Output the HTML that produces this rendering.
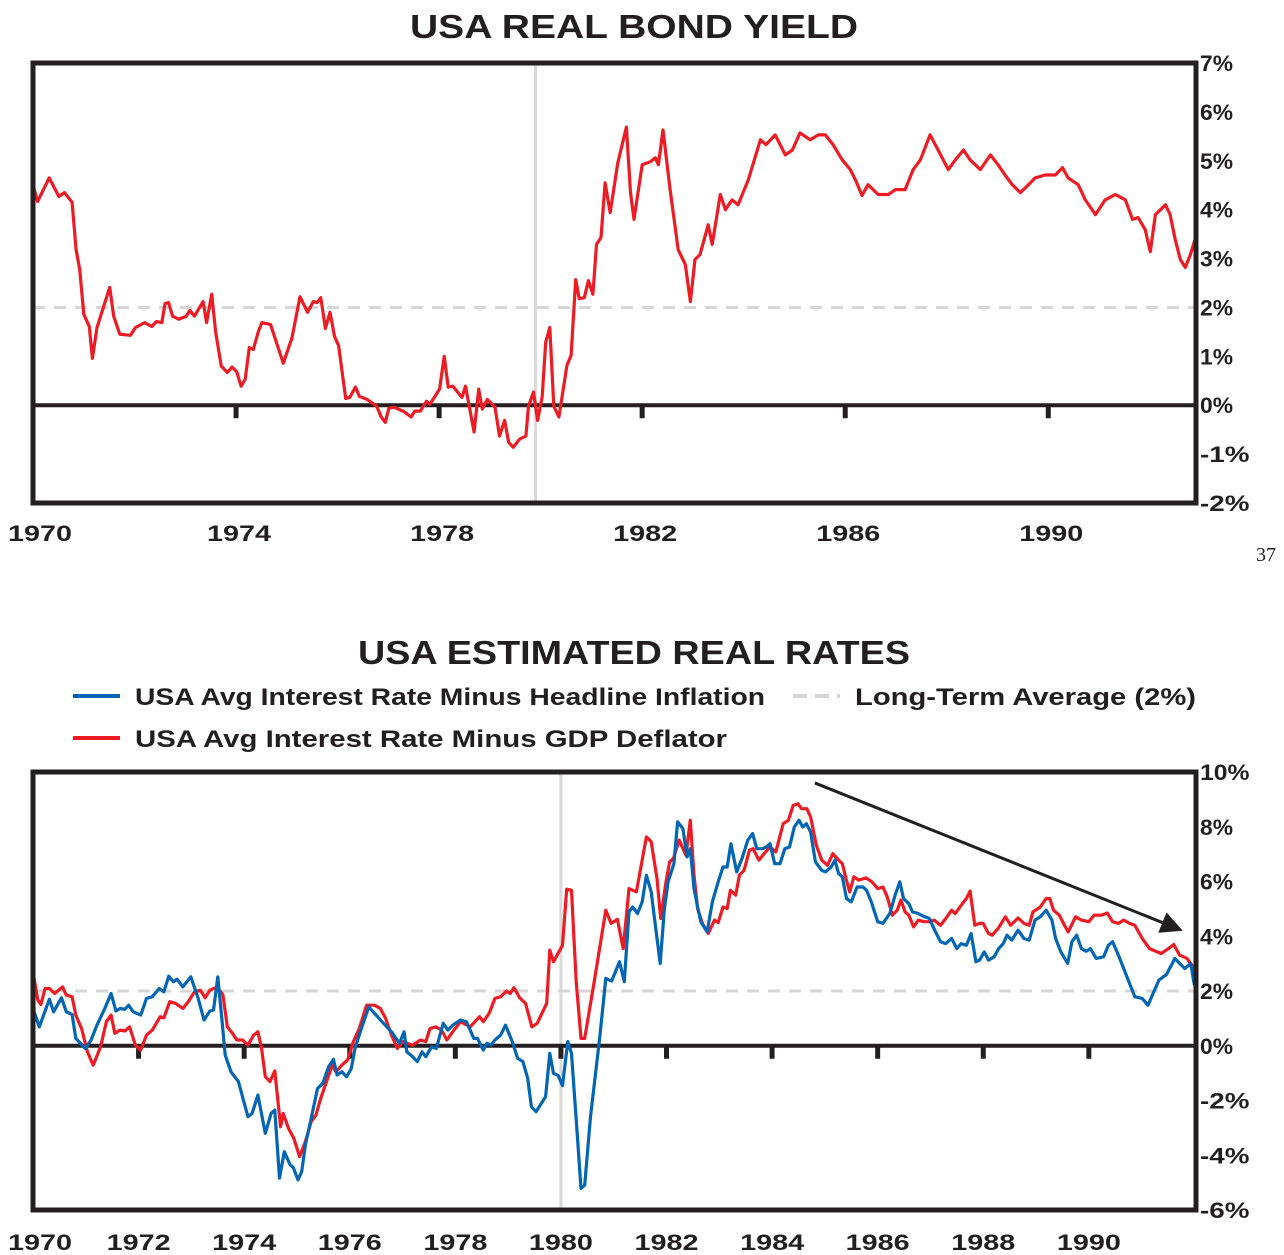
<!DOCTYPE html>
<html><head><meta charset="utf-8"><style>
html,body{margin:0;padding:0;background:#fff;}
svg{display:block;font-family:"Liberation Sans",sans-serif;font-weight:bold;}
</style></head><body>
<svg id="c" width="1284" height="1255" viewBox="0 0 1284 1255"></svg>
<script>
// ---- Top chart data: USA real bond yield ----
const bondDates=[1970.0,1970.09,1970.32,1970.51,1970.62,1970.77,1970.85,1970.92,1971.0,1971.11,1971.17,1971.26,1971.51,1971.59,1971.71,1971.92,1972.02,1972.2,1972.34,1972.43,1972.54,1972.6,1972.67,1972.75,1972.87,1973.02,1973.09,1973.18,1973.35,1973.42,1973.52,1973.6,1973.71,1973.83,1973.92,1974.01,1974.1,1974.18,1974.26,1974.34,1974.44,1974.51,1974.68,1974.93,1975.1,1975.26,1975.41,1975.52,1975.6,1975.67,1975.76,1975.85,1975.94,1976.02,1976.16,1976.24,1976.35,1976.43,1976.58,1976.77,1976.86,1976.94,1977.01,1977.11,1977.29,1977.45,1977.52,1977.63,1977.75,1977.82,1978.01,1978.1,1978.18,1978.27,1978.45,1978.52,1978.69,1978.78,1978.85,1978.95,1979.1,1979.19,1979.29,1979.37,1979.46,1979.59,1979.71,1979.76,1979.86,1979.94,1980.03,1980.1,1980.18,1980.26,1980.36,1980.52,1980.6,1980.69,1980.76,1980.86,1980.94,1981.03,1981.1,1981.19,1981.27,1981.37,1981.52,1981.69,1981.77,1981.84,1982.0,1982.16,1982.26,1982.32,1982.41,1982.55,1982.71,1982.85,1982.95,1983.04,1983.14,1983.3,1983.38,1983.54,1983.64,1983.77,1983.89,1984.09,1984.33,1984.44,1984.62,1984.82,1984.96,1985.11,1985.31,1985.47,1985.61,1985.76,1985.94,1986.1,1986.2,1986.33,1986.45,1986.65,1986.85,1986.99,1987.18,1987.34,1987.48,1987.67,1987.83,1988.03,1988.17,1988.33,1988.46,1988.66,1988.86,1989.01,1989.15,1989.29,1989.45,1989.61,1989.74,1989.94,1990.14,1990.28,1990.39,1990.59,1990.73,1990.93,1991.12,1991.32,1991.52,1991.66,1991.77,1991.91,1992.01,1992.11,1992.21,1992.31,1992.4,1992.5,1992.6,1992.7,1992.8,1992.92];
const bondValues=[4.5,4.17,4.65,4.27,4.35,4.15,3.18,2.78,1.86,1.61,0.96,1.59,2.41,1.82,1.45,1.43,1.59,1.69,1.61,1.71,1.69,2.08,2.1,1.82,1.76,1.82,1.94,1.82,2.12,1.69,2.27,1.49,0.8,0.67,0.78,0.69,0.39,0.53,1.18,1.14,1.51,1.69,1.65,0.86,1.37,2.22,1.9,2.12,2.1,2.2,1.57,1.9,1.41,1.22,0.14,0.16,0.37,0.18,0.12,-0.02,-0.24,-0.35,-0.06,-0.04,-0.12,-0.24,-0.12,-0.12,0.08,0.02,0.33,1.0,0.37,0.39,0.16,0.39,-0.55,0.33,-0.08,0.12,-0.04,-0.63,-0.31,-0.76,-0.86,-0.69,-0.63,-0.02,0.27,-0.31,0.18,1.29,1.59,-0.02,-0.24,0.82,1.02,2.57,2.18,2.2,2.55,2.27,3.29,3.43,4.55,3.94,4.96,5.69,4.35,3.8,4.92,4.98,5.06,4.92,5.63,4.41,3.18,2.88,2.12,2.98,3.08,3.69,3.29,4.31,4.0,4.2,4.1,4.61,5.43,5.33,5.53,5.12,5.22,5.57,5.43,5.53,5.53,5.33,5.02,4.82,4.61,4.29,4.51,4.31,4.31,4.41,4.41,4.82,5.02,5.53,5.22,4.82,5.02,5.22,5.02,4.82,5.12,4.92,4.71,4.51,4.35,4.51,4.65,4.71,4.71,4.86,4.65,4.51,4.2,3.9,4.2,4.31,4.2,3.8,3.84,3.59,3.14,3.9,4.0,4.1,3.9,3.39,2.98,2.82,3.08,3.49];
const topYTicks=[7,6,5,4,3,2,1,0,-1,-2];
const topXTicks=[1970,1974,1978,1982,1986,1990];

// ---- Bottom chart data: estimated real rates ----
const headlineDates=[1970.0,1970.02,1970.12,1970.31,1970.39,1970.54,1970.63,1970.74,1970.81,1970.99,1971.1,1971.21,1971.36,1971.48,1971.57,1971.65,1971.74,1971.81,1971.9,1972.04,1972.15,1972.26,1972.39,1972.48,1972.57,1972.66,1972.73,1972.84,1972.99,1973.13,1973.24,1973.35,1973.42,1973.5,1973.57,1973.64,1973.75,1973.89,1974.07,1974.15,1974.26,1974.4,1974.51,1974.58,1974.67,1974.76,1974.87,1974.93,1975.02,1975.09,1975.16,1975.27,1975.39,1975.49,1975.6,1975.69,1975.76,1975.85,1975.94,1976.03,1976.1,1976.21,1976.36,1976.47,1976.61,1976.79,1976.94,1977.03,1977.08,1977.19,1977.28,1977.37,1977.44,1977.55,1977.64,1977.77,1977.86,1977.95,1978.1,1978.21,1978.35,1978.42,1978.53,1978.6,1978.68,1978.75,1978.86,1978.95,1979.08,1979.18,1979.28,1979.37,1979.44,1979.53,1979.71,1979.79,1979.86,1979.95,1980.03,1980.13,1980.2,1980.31,1980.38,1980.45,1980.56,1980.74,1980.85,1980.96,1981.11,1981.2,1981.29,1981.36,1981.45,1981.54,1981.62,1981.71,1981.78,1981.88,1981.96,1982.03,1982.14,1982.21,1982.31,1982.39,1982.45,1982.52,1982.59,1982.65,1982.77,1982.87,1982.98,1983.07,1983.15,1983.22,1983.33,1983.43,1983.54,1983.63,1983.71,1983.82,1983.89,1983.96,1984.05,1984.15,1984.24,1984.33,1984.42,1984.51,1984.58,1984.65,1984.73,1984.82,1984.94,1985.01,1985.12,1985.19,1985.26,1985.33,1985.41,1985.5,1985.61,1985.72,1985.79,1985.88,1986.0,1986.1,1986.23,1986.33,1986.42,1986.49,1986.59,1986.66,1986.77,1986.87,1986.98,1987.08,1987.19,1987.29,1987.4,1987.5,1987.58,1987.68,1987.77,1987.86,1987.93,1988.02,1988.1,1988.21,1988.29,1988.38,1988.45,1988.54,1988.66,1988.77,1988.87,1988.98,1989.08,1989.19,1989.3,1989.37,1989.47,1989.6,1989.68,1989.77,1989.86,1989.95,1990.03,1990.14,1990.28,1990.37,1990.45,1990.56,1990.66,1990.77,1990.87,1991.01,1991.12,1991.23,1991.33,1991.47,1991.63,1991.72,1991.82,1991.93,1992.0];
const headlineValues=[2.4,1.24,0.69,1.7,1.24,1.75,1.24,1.14,0.27,-0.1,0.21,0.75,1.36,1.91,1.27,1.36,1.33,1.48,1.24,1.12,1.73,1.79,2.09,1.97,2.54,2.34,2.43,2.15,2.52,1.73,0.94,1.27,1.3,2.52,1.12,-0.34,-0.95,-1.31,-2.59,-2.47,-1.8,-3.2,-2.47,-2.35,-4.84,-3.87,-4.35,-4.45,-4.9,-4.6,-3.62,-2.65,-1.56,-1.37,-0.77,-0.49,-1.07,-0.95,-1.13,-0.83,-0.1,0.57,1.42,1.18,0.88,0.51,0.09,0.51,-0.22,-0.4,-0.58,-0.22,-0.4,-0.04,-0.1,0.82,0.57,0.75,0.94,0.88,0.27,0.27,-0.16,0.09,0.02,0.21,0.39,0.75,0.15,-0.46,-0.58,-1.19,-2.23,-2.41,-1.86,-0.28,-1.01,-1.09,-1.46,0.15,-0.28,-3.26,-5.21,-5.09,-2.59,0.39,2.46,2.36,3.07,2.34,4.89,5.07,4.83,5.26,6.23,5.62,4.53,3.01,5.01,5.99,6.65,8.18,7.93,6.9,7.2,5.74,5.07,4.53,4.16,5.26,5.99,6.53,6.53,7.38,6.35,6.84,7.51,7.75,7.2,7.2,7.26,7.38,6.65,6.65,7.2,7.26,7.99,8.24,7.99,8.11,7.81,6.72,6.41,6.35,6.53,6.78,6.29,6.17,5.38,5.26,5.8,5.8,5.68,5.26,4.53,4.47,4.83,5.5,5.99,5.38,5.19,4.89,4.83,4.73,4.65,4.22,3.8,3.73,3.92,3.55,3.73,3.67,4.1,3.07,3.13,3.43,3.13,3.25,3.55,3.73,4.04,3.86,4.22,3.92,3.86,4.59,4.71,4.95,4.59,3.92,3.43,3.01,3.8,4.04,3.55,3.45,3.55,3.19,3.25,3.67,3.8,3.31,2.82,2.28,1.79,1.73,1.48,1.97,2.4,2.6,3.19,3.01,2.82,3.01,2.21];
const deflatorDates=[1970.0,1970.02,1970.09,1970.15,1970.23,1970.31,1970.41,1970.56,1970.63,1970.74,1970.81,1970.92,1971.03,1971.14,1971.28,1971.39,1971.48,1971.55,1971.65,1971.74,1971.83,1971.94,1972.04,1972.15,1972.26,1972.41,1972.48,1972.59,1972.7,1972.84,1972.95,1973.06,1973.17,1973.26,1973.35,1973.49,1973.6,1973.68,1973.78,1973.86,1973.97,1974.07,1974.18,1974.26,1974.33,1974.4,1974.49,1974.58,1974.69,1974.74,1974.84,1974.94,1975.05,1975.16,1975.27,1975.36,1975.45,1975.56,1975.67,1975.74,1975.85,1975.96,1976.07,1976.18,1976.32,1976.47,1976.58,1976.68,1976.79,1976.9,1977.01,1977.19,1977.34,1977.44,1977.52,1977.63,1977.74,1977.84,1977.95,1978.1,1978.28,1978.46,1978.53,1978.64,1978.75,1978.86,1978.97,1979.04,1979.11,1979.22,1979.33,1979.45,1979.55,1979.73,1979.79,1979.86,1980.03,1980.11,1980.2,1980.29,1980.38,1980.45,1980.63,1980.85,1980.95,1981.07,1981.18,1981.29,1981.43,1981.62,1981.71,1981.82,1981.89,1981.99,1982.06,1982.13,1982.24,1982.37,1982.45,1982.52,1982.59,1982.68,1982.79,1982.91,1982.98,1983.07,1983.15,1983.21,1983.31,1983.38,1983.47,1983.57,1983.64,1983.75,1983.85,1983.96,1984.07,1984.21,1984.31,1984.4,1984.49,1984.56,1984.66,1984.73,1984.84,1984.94,1985.05,1985.15,1985.26,1985.33,1985.4,1985.47,1985.55,1985.64,1985.78,1985.89,1986.0,1986.1,1986.18,1986.28,1986.37,1986.44,1986.52,1986.59,1986.68,1986.77,1986.87,1986.98,1987.07,1987.19,1987.29,1987.4,1987.47,1987.58,1987.68,1987.75,1987.84,1987.93,1988.0,1988.1,1988.17,1988.28,1988.42,1988.52,1988.66,1988.77,1988.87,1988.94,1989.08,1989.19,1989.26,1989.33,1989.44,1989.54,1989.61,1989.75,1989.86,1990.0,1990.1,1990.24,1990.35,1990.45,1990.56,1990.66,1990.77,1990.87,1991.01,1991.15,1991.37,1991.51,1991.61,1991.72,1991.86,1992.0];
const deflatorValues=[2.7,2.46,1.67,1.51,2.09,2.09,1.91,2.15,1.85,1.79,1.12,0.63,-0.22,-0.71,-0.04,0.88,1.12,0.45,0.57,0.54,0.69,0.02,-0.16,0.39,0.57,1.06,1.02,1.61,1.55,1.36,1.63,1.97,2.03,1.75,2.03,2.15,1.85,0.69,0.45,0.21,0.21,0.02,0.39,0.51,-0.1,-1.13,-1.31,-0.92,-2.96,-2.47,-3.02,-3.38,-4.05,-3.5,-2.77,-2.53,-1.92,-1.31,-0.71,-0.95,-0.71,-0.52,0.15,0.63,1.48,1.48,1.36,1.0,0.39,-0.1,0.15,0.02,0.21,0.15,0.63,0.69,0.57,0.21,0.51,0.88,0.69,1.06,0.88,1.18,1.73,1.79,2.0,1.91,2.12,1.75,1.55,0.69,0.82,1.55,3.49,3.07,3.67,5.72,5.68,2.34,0.27,0.27,2.34,4.95,4.47,4.62,3.55,5.74,5.62,7.63,7.45,6.11,4.65,5.99,6.72,6.84,7.51,6.96,8.24,6.23,5.01,4.47,4.1,4.59,4.5,5.07,5.01,5.68,5.5,6.23,6.41,7.14,7.2,6.78,7.02,7.26,7.08,8.11,8.24,8.78,8.84,8.66,8.66,8.36,7.32,6.78,6.59,7.02,6.78,6.65,6.11,5.62,6.17,6.05,6.13,5.99,5.74,5.8,5.44,4.77,4.95,5.32,4.89,4.77,4.34,4.59,4.53,4.53,4.59,4.4,4.65,4.95,4.83,5.13,5.38,5.65,4.4,4.47,4.47,4.1,4.04,4.28,4.71,4.4,4.67,4.47,4.4,4.89,5.07,5.38,5.38,4.95,4.77,4.4,4.16,4.71,4.59,4.53,4.77,4.77,4.85,4.53,4.47,4.59,4.47,4.4,3.92,3.55,3.37,3.55,3.7,3.31,3.19,2.82];
const botYTicks=[10,8,6,4,2,0,-2,-4,-6];
const botXTicks=[1970,1972,1974,1976,1978,1980,1982,1984,1986,1988,1990];
const trendArrow=[[1984.81,9.6],[1991.78,4.2]];

const NS="http://www.w3.org/2000/svg";
const svg=document.getElementById('c');
function mk(tag,attrs,parent){const e=document.createElementNS(NS,tag);for(const k in attrs)e.setAttribute(k,attrs[k]);(parent||svg).appendChild(e);return e;}
function txt(s,x,y,size,anchor,parent,len,fam){const t=mk('text',{x:x,y:y,'font-size':size,'text-anchor':anchor||'start',fill:'#231f20'},parent);if(len){t.setAttribute('textLength',len);t.setAttribute('lengthAdjust','spacingAndGlyphs');}if(fam){t.setAttribute('font-family',fam);t.setAttribute('font-weight','normal');}t.textContent=s;return t;}
function pathD(dates,vals,sx,sy){return dates.map((d,i)=>(i?'L':'M')+sx(d).toFixed(1)+' '+sy(vals[i]).toFixed(1)).join(' ');}
function yLen(s){return s.length*16.5;}

// ===== TOP CHART =====
const T={x0:33,x1:1196,y0:63,y1:503,xmin:1970,xmax:1992.91,ymin:-2,ymax:7};
const tx=d=>T.x0+(d-T.xmin)/(T.xmax-T.xmin)*(T.x1-T.x0);
const ty=v=>T.y1-(v-T.ymin)/(T.ymax-T.ymin)*(T.y1-T.y0);
const gTop=mk('g',{});


const t1=txt('USA REAL BOND YIELD',634,38,33,'middle',gTop,448);


const vl1=mk('line',{x1:tx(1979.9),x2:tx(1979.9),y1:T.y0,y2:T.y1,stroke:'#d9d9d9','stroke-width':3},gTop);


const avg1=mk('line',{x1:T.x0,x2:T.x1,y1:ty(2),y2:ty(2),stroke:'#d6d6d6','stroke-width':3,'stroke-dasharray':'12 9'},gTop);


const z1=mk('line',{x1:T.x0,x2:T.x1,y1:ty(0),y2:ty(0),stroke:'#231f20','stroke-width':4},gTop);


topXTicks.forEach(y=>{
  const tk=mk('line',{x1:tx(y),x2:tx(y),y1:ty(0),y2:ty(0)+13,stroke:'#231f20','stroke-width':5},gTop);
  
  
  const l=txt(String(y),tx(y)+(y===1970?7:3),541,22,'middle',gTop,64);
  
  
});
topYTicks.forEach(v=>{
  const s=v+'%';
  const l=txt(s,1200,ty(v)+8,22,'start',gTop,yLen(s));
  
  
});
const s1=mk('path',{d:pathD(bondDates,bondValues,tx,ty),fill:'none',stroke:'#ed1c24','stroke-width':3.2,'stroke-linejoin':'round'},gTop);


const f1=mk('rect',{x:T.x0,y:T.y0,width:T.x1-T.x0,height:T.y1-T.y0,fill:'none',stroke:'#231f20','stroke-width':5},gTop);


const pg=txt('37',1266,561,20,'middle',svg,0,'"Liberation Serif",serif');



// ===== BOTTOM CHART =====
const B={x0:33,x1:1196,y0:772,y1:1210,xmin:1970,xmax:1992.03,ymin:-6,ymax:10};
const bx=d=>B.x0+(d-B.xmin)/(B.xmax-B.xmin)*(B.x1-B.x0);
const by=v=>B.y1-(v-B.ymin)/(B.ymax-B.ymin)*(B.y1-B.y0);
const gB=mk('g',{});


const t2=txt('USA ESTIMATED REAL RATES',634,664,33,'middle',gB,552);


// legend
const lg=mk('g',{},gB);


const le1=mk('line',{x1:73,x2:120,y1:696,y2:696,stroke:'#0066b3','stroke-width':4},lg);


const lt1=txt('USA Avg Interest Rate Minus Headline Inflation',135,705,24,'start',lg,630);


const le2=mk('line',{x1:793,x2:840,y1:696,y2:696,stroke:'#d6d6d6','stroke-width':4,'stroke-dasharray':'14 8'},lg);


const lt2=txt('Long-Term Average (2%)',855,705,24,'start',lg,341);


const le3=mk('line',{x1:73,x2:120,y1:738,y2:738,stroke:'#ed1c24','stroke-width':4},lg);


const lt3=txt('USA Avg Interest Rate Minus GDP Deflator',135,747,24,'start',lg,592);



const vl2=mk('line',{x1:bx(1980),x2:bx(1980),y1:B.y0,y2:B.y1,stroke:'#d9d9d9','stroke-width':3},gB);


const avg2=mk('line',{x1:B.x0,x2:B.x1,y1:by(2),y2:by(2),stroke:'#d6d6d6','stroke-width':3,'stroke-dasharray':'12 9'},gB);


const z2=mk('line',{x1:B.x0,x2:B.x1,y1:by(0),y2:by(0),stroke:'#231f20','stroke-width':4},gB);


botXTicks.forEach(y=>{
  const tk=mk('line',{x1:bx(y),x2:bx(y),y1:by(0),y2:by(0)+13,stroke:'#231f20','stroke-width':5},gB);
  
  
  const l=txt(String(y),bx(y)+(y===1970?7:0),1250,22,'middle',gB,64);
  
  
});
botYTicks.forEach(v=>{
  const s=v+'%';
  const l=txt(s,1200,by(v)+8,22,'start',gB,yLen(s));
  
  
});
const s2=mk('path',{d:pathD(deflatorDates,deflatorValues,bx,by),fill:'none',stroke:'#ed1c24','stroke-width':3.2,'stroke-linejoin':'round'},gB);


const s3=mk('path',{d:pathD(headlineDates,headlineValues,bx,by),fill:'none',stroke:'#0066b3','stroke-width':3.2,'stroke-linejoin':'round'},gB);


// trend arrow
const ax1=bx(trendArrow[0][0]),ay1=by(trendArrow[0][1]),ax2=bx(trendArrow[1][0]),ay2=by(trendArrow[1][1]);
const ang=Math.atan2(ay2-ay1,ax2-ax1);
const hx=ax2-22*Math.cos(ang),hy=ay2-22*Math.sin(ang);
const ar=mk('line',{x1:ax1,y1:ay1,x2:hx,y2:hy,stroke:'#231f20','stroke-width':3},gB);


const px=-Math.sin(ang),py=Math.cos(ang);
const ah=mk('polygon',{points:`${ax2},${ay2} ${hx+11*px},${hy+11*py} ${hx-11*px},${hy-11*py}`,fill:'#231f20'},gB);


const f2=mk('rect',{x:B.x0,y:B.y0,width:B.x1-B.x0,height:B.y1-B.y0,fill:'none',stroke:'#231f20','stroke-width':5},gB);


</script>
</body></html>
